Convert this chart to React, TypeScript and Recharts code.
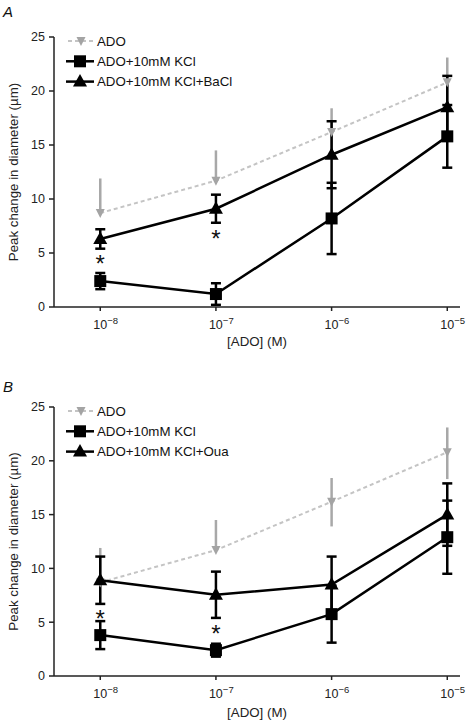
import { ComposedChart, Line, XAxis, YAxis, ErrorBar, Legend } from 'recharts'

const FONT = '"Liberation Sans", Arial, Helvetica, sans-serif'

// log10 of [ADO] (M)
const doses = [-8, -7, -6, -5]
const yTicks = [0, 5, 10, 15, 20, 25]

// ADO alone (same in both panels), error as [down, up]
const adoMean = [8.7, 11.7, 16.2, 20.8]
const adoErr = [[0, 3.2], [0, 2.8], [2.3, 2.2], [2.5, 2.3]]

// panel A
const kclA = [2.4, 1.2, 8.2, 15.8]
const kclErrA = [0.75, 1.0, 3.3, 2.9]
const baclA = [6.3, 9.1, 14.1, 18.5]
const baclErrA = [0.9, 1.3, 3.1, 2.9]
const starsA = [4.4, 6.8, null, null]

// panel B
const kclB = [3.8, 2.4, 5.75, 12.9]
const kclErrB = [1.3, 0.6, 2.65, 3.4]
const ouaB = [8.9, 7.55, 8.5, 15.0]
const ouaErrB = [2.2, 2.15, 2.6, 2.9]
const starsB = [5.8, 4.4, null, null]

const buildRows = (kcl: number[], kclErr: number[], tri: number[], triErr: number[], stars: (number | null)[]) =>
  doses.map((x, i) => ({
    x,
    ado: adoMean[i],
    adoErr: adoErr[i],
    kcl: kcl[i],
    kclErr: kclErr[i],
    tri: tri[i],
    triErr: triErr[i],
    star: stars[i],
  }))

const Square = (p: any) => {
  if (p.cx == null || p.cy == null) return <g key={`s${p.index}`} />
  return <rect key={`s${p.index}`} x={p.cx - 6} y={p.cy - 6} width={12} height={12} fill="#000" />
}

const TriUp = (p: any) => {
  if (p.cx == null || p.cy == null) return <g key={`t${p.index}`} />
  const { cx, cy } = p
  return <polygon key={`t${p.index}`} points={`${cx},${cy - 7.5} ${cx - 7},${cy + 5} ${cx + 7},${cy + 5}`} fill="#000" />
}

const TriDown = (p: any) => {
  if (p.cx == null || p.cy == null) return <g key={`d${p.index}`} />
  const { cx, cy } = p
  return <polygon key={`d${p.index}`} points={`${cx - 4.5},${cy - 4} ${cx + 4.5},${cy - 4} ${cx},${cy + 5}`} fill="#a4a4a4" />
}

const Star = (p: any) => {
  if (p.value == null || p.cy == null) return <g key={`a${p.index}`} />
  return (
    <text key={`a${p.index}`} x={p.cx} y={p.cy + 13} textAnchor="middle" fontSize={24} fontFamily={FONT} fill="#111">
      *
    </text>
  )
}

const DoseTick = ({ x, y, payload }: any) => (
  <text x={x - 7} y={y + 16} fontSize={12.5} fill="#222" fontFamily={FONT}>
    10
    <tspan dy={-5.5} fontSize={9.5}>{'\u2212' + String(-payload.value)}</tspan>
  </text>
)

function LegendBox({ triName }: { triName: string }) {
  const rows = [
    { name: 'ADO', kind: 'ado' },
    { name: 'ADO+10mM KCl', kind: 'sq' },
    { name: triName, kind: 'tri' },
  ]
  return (
    <svg width={240} height={62}>
      {rows.map((r, i) => {
        const cy = 10 + i * 20.3
        return (
          <g key={r.name}>
            {r.kind === 'ado' ? (
              <line x1={8} x2={35} y1={cy} y2={cy} stroke="#c4c4c4" strokeWidth={2} strokeDasharray="4 3" />
            ) : (
              <line x1={6} x2={34} y1={cy} y2={cy} stroke="#000" strokeWidth={2.5} />
            )}
            {r.kind === 'ado' && <TriDown cx={21} cy={cy} index={i} />}
            {r.kind === 'sq' && <Square cx={20} cy={cy} index={i} />}
            {r.kind === 'tri' && <TriUp cx={20} cy={cy} index={i} />}
            <text x={37} y={cy + 4.8} fontSize={13.3} fill="#111" fontFamily={FONT}>
              {r.name}
            </text>
          </g>
        )
      })}
    </svg>
  )
}

interface PanelProps {
  rows: any[]
  triName: string
  height: number
  plotTop: number
  axisH: number
  labelOffset: number
}

function Panel({ rows, triName, height, plotTop, axisH, labelOffset }: PanelProps) {
  return (
    <ComposedChart width={467} height={height} data={rows} margin={{ top: plotTop, right: 7, left: 0, bottom: 0 }}>
      <XAxis
        dataKey="x"
        type="number"
        domain={[-8.4, -4.89]}
        ticks={doses}
        tick={<DoseTick />}
        tickSize={4}
        height={axisH}
        stroke="#222"
        strokeWidth={1.5}
        label={{ value: '[ADO] (M)', position: 'insideBottom', offset: labelOffset, fontSize: 13.3, fill: '#222', fontFamily: FONT }}
      />
      <YAxis
        type="number"
        domain={[0, 25]}
        ticks={yTicks}
        width={54}
        tickSize={5}
        tickMargin={4}
        stroke="#222"
        strokeWidth={1.5}
        tick={{ fontSize: 12.5, fill: '#222', fontFamily: FONT }}
        label={{
          value: 'Peak change in diameter (\u00b5m)',
          angle: -90,
          position: 'insideLeft',
          offset: 13,
          fontSize: 13.3,
          fill: '#222',
          fontFamily: FONT,
          style: { textAnchor: 'middle' },
        }}
      />
      <Legend
        layout="vertical"
        align="center"
        verticalAlign="middle"
        wrapperStyle={{ top: plotTop - 6, left: 60, width: 240 }}
        content={() => <LegendBox triName={triName} />}
      />
      <Line
        dataKey="ado"
        name="ADO"
        type="linear"
        stroke="#c4c4c4"
        strokeWidth={2}
        strokeDasharray="4 3"
        dot={TriDown}
        activeDot={false}
        isAnimationActive={false}
      >
        <ErrorBar dataKey="adoErr" direction="y" width={0} stroke="#a8a8a8" strokeWidth={2.5} />
      </Line>
      <Line
        dataKey="kcl"
        name="ADO+10mM KCl"
        type="linear"
        stroke="#000"
        strokeWidth={2.5}
        dot={Square}
        activeDot={false}
        isAnimationActive={false}
      >
        <ErrorBar dataKey="kclErr" direction="y" width={5} stroke="#000" strokeWidth={2.5} />
      </Line>
      <Line
        dataKey="tri"
        name={triName}
        type="linear"
        stroke="#000"
        strokeWidth={2.5}
        dot={TriUp}
        activeDot={false}
        isAnimationActive={false}
      >
        <ErrorBar dataKey="triErr" direction="y" width={5} stroke="#000" strokeWidth={2.5} />
      </Line>
      <Line
        dataKey="star"
        type="linear"
        stroke="none"
        dot={Star}
        activeDot={false}
        legendType="none"
        isAnimationActive={false}
      />
    </ComposedChart>
  )
}

export default function App() {
  const rowsA = buildRows(kclA, kclErrA, baclA, baclErrA, starsA)
  const rowsB = buildRows(kclB, kclErrB, ouaB, ouaErrB, starsB)
  return (
    <div style={{ position: 'absolute', left: 0, top: 0, width: 467, height: 721, background: '#fff', fontFamily: FONT }}>
      <div style={{ position: 'absolute', left: 0, top: 0 }}>
        <Panel rows={rowsA} triName="ADO+10mM KCl+BaCl" height={360} plotTop={37} axisH={53} labelOffset={14} />
      </div>
      <div style={{ position: 'absolute', left: 0, top: 360 }}>
        <Panel rows={rowsB} triName="ADO+10mM KCl+Oua" height={361} plotTop={47} axisH={45} labelOffset={4} />
      </div>
      <div style={{ position: 'absolute', left: 3, top: 4, fontSize: 15, fontStyle: 'italic', lineHeight: 1, color: '#111' }}>A</div>
      <div style={{ position: 'absolute', left: 3, top: 379, fontSize: 15, fontStyle: 'italic', lineHeight: 1, color: '#111' }}>B</div>
    </div>
  )
}
